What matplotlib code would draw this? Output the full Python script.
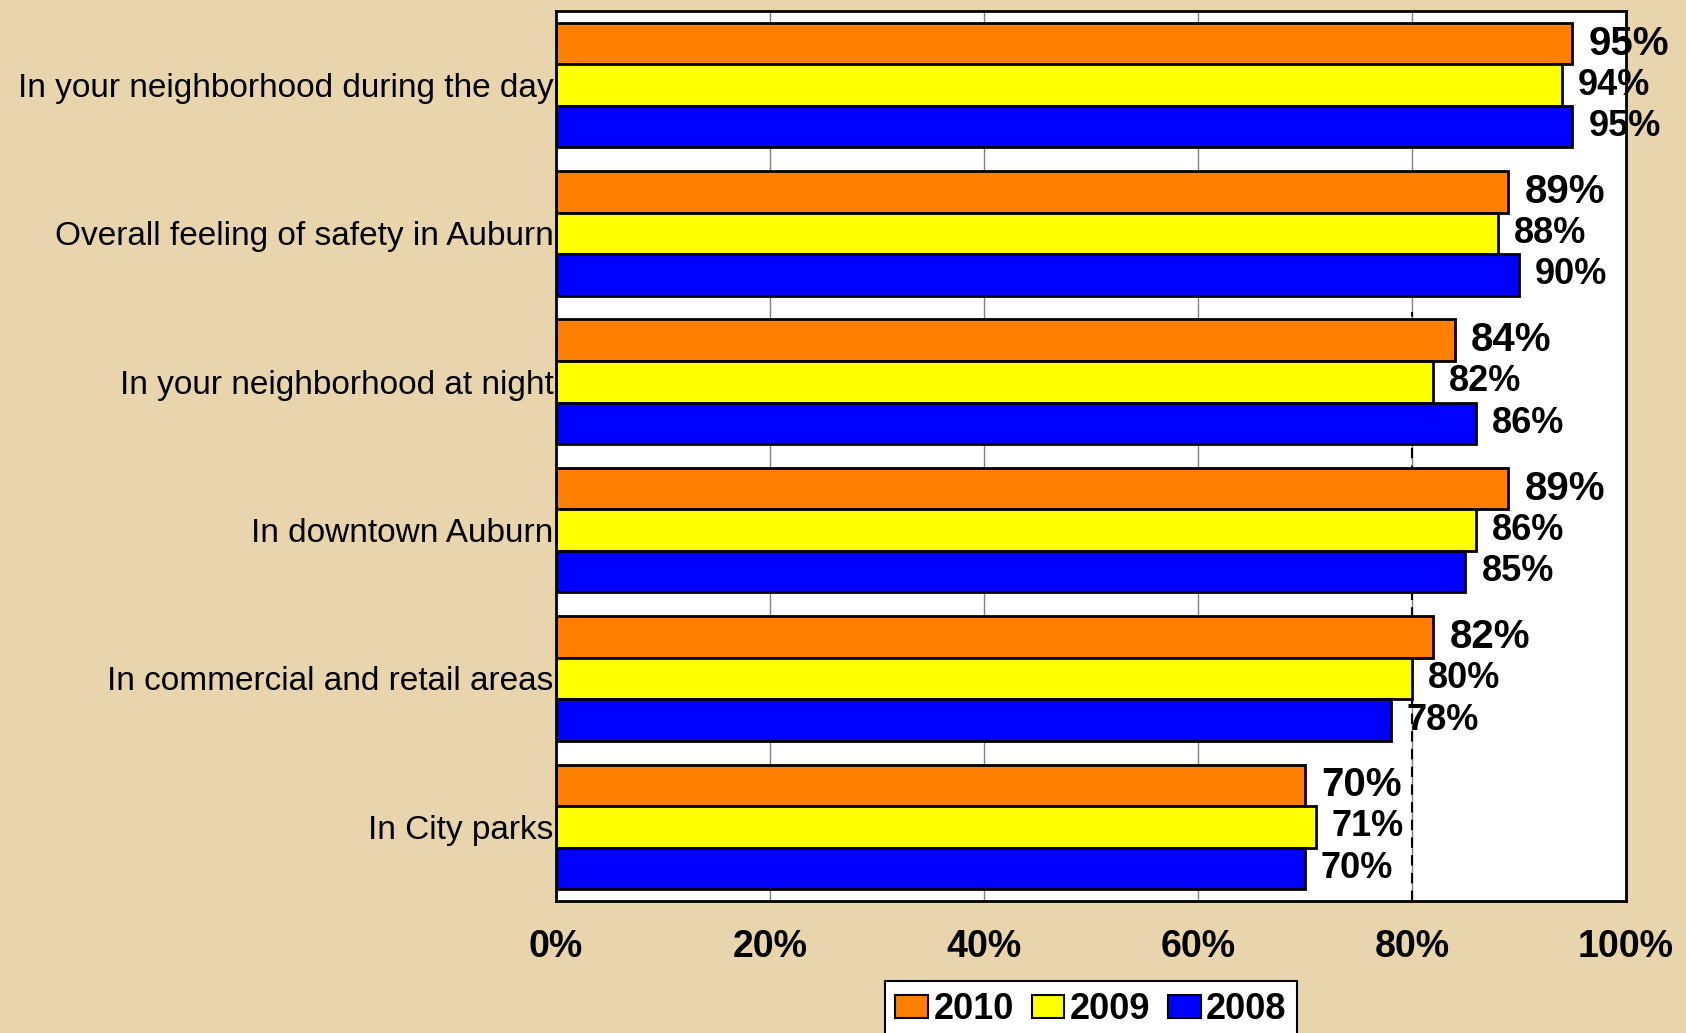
import matplotlib.pyplot as plt
import numpy as np

categories = [
    "In your neighborhood during the day",
    "Overall feeling of safety in Auburn",
    "In your neighborhood at night",
    "In downtown Auburn",
    "In commercial and retail areas",
    "In City parks",
]
years = ["2010", "2009", "2008"]
values_2010 = [95, 89, 84, 89, 82, 70]
values_2009 = [94, 88, 82, 86, 80, 71]
values_2008 = [95, 90, 86, 85, 78, 70]
x_ticks = [0, 20, 40, 60, 80, 100]
x_tick_labels = ["0%", "20%", "40%", "60%", "80%", "100%"]

plt.rcParams['font.family'] = ['Liberation Sans', 'DejaVu Sans']

colors = ["#FF8000", "#FFFF00", "#0000FF"]
series = [values_2010, values_2009, values_2008]
label_sizes = [29, 26, 26]
bar_h = 0.28

fig = plt.figure(figsize=(16.86, 10.33), dpi=100)
fig.patch.set_facecolor("#E8D5AE")
ax = fig.add_axes([0.3298, 0.1278, 0.6346, 0.8616])
ax.set_facecolor("white")

y = np.arange(len(categories))

# gridlines behind the bars
for t in [20, 40, 60, 80]:
    ax.axvline(t, color="#808080", linewidth=1, zorder=0)
ax.axvline(80, ymin=0, ymax=0.662, color="black", linewidth=1.5,
           linestyle=(0, (5, 3.5)), zorder=0.5)

for i, (vals, col) in enumerate(zip(series, colors)):
    pos = y + (i - 1) * bar_h
    ax.barh(pos, vals, height=bar_h, color=col, edgecolor="black",
            linewidth=2, label=years[i], zorder=2)
    for p, v in zip(pos, vals):
        ax.annotate(f"{v}%", xy=(v, p), xytext=(11.5, 0), textcoords="offset points",
                    ha="left", va="center", fontsize=label_sizes[i],
                    fontweight="bold", color="black", zorder=3)

ax.set_xlim(0, 100)
ax.set_ylim(len(categories) - 0.5, -0.5)

ax.set_yticks(y)
ax.set_yticklabels(categories, fontsize=24)
ax.set_xticks(x_ticks)
ax.set_xticklabels(x_tick_labels, fontsize=27, fontweight="bold")
ax.tick_params(axis="both", length=0)
ax.tick_params(axis="x", pad=20)
ax.tick_params(axis="y", pad=2)

for s in ax.spines.values():
    s.set_linewidth(2)
    s.set_color("black")

leg = ax.legend(loc="upper center", bbox_to_anchor=(1091 / 1686, 0.0503),
                bbox_transform=fig.transFigure, ncol=3, fontsize=26,
                prop={"weight": "bold", "size": 26}, frameon=True, fancybox=False,
                handlelength=0.9, handleheight=0.6, handletextpad=0.15,
                columnspacing=0.5, borderaxespad=0, borderpad=0.3)
leg.get_frame().set_edgecolor("black")
leg.get_frame().set_linewidth(1.5)
leg.get_frame().set_facecolor("white")
leg.get_frame().set_alpha(1)
for h in leg.legend_handles:
    h.set_linewidth(1.5)

fig.savefig("out.png", dpi=100, facecolor=fig.get_facecolor())
